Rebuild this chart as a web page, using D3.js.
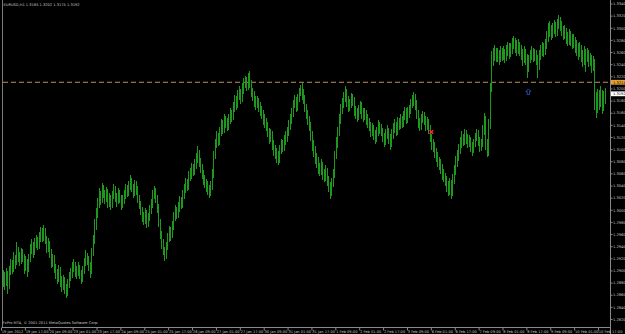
<!DOCTYPE html>
<meta charset="utf-8">
<head>
<style>
	html, body { margin: 0; padding: 0; background: #000; overflow: hidden; }
	svg { display: block; }
	.lbl { font-family: "DejaVu Sans", sans-serif; font-size: 3.6px; fill: #c8c8c8; }
</style>
<script src="https://cdn.jsdelivr.net/npm/d3@7"></script>
</head>
<body>
<script>

// DATA
var symbolTitle = "EURUSD,H1";
var copyright = "FxPro MT4, \u00a9 2001-2011 MetaQuotes Software Corp.";

var timeLabels = ["19 Jan 2012", "19 Jan 17:00", "20 Jan 09:00", "23 Jan 01:00", "23 Jan 17:00",
	"24 Jan 09:00", "25 Jan 01:00", "25 Jan 17:00", "26 Jan 09:00", "27 Jan 01:00", "27 Jan 17:00",
	"30 Jan 09:00", "31 Jan 01:00", "31 Jan 17:00", "1 Feb 09:00", "2 Feb 01:00", "2 Feb 17:00",
	"3 Feb 09:00", "6 Feb 01:00", "6 Feb 17:00", "7 Feb 09:00", "8 Feb 01:00", "8 Feb 17:00",
	"9 Feb 09:00", "10 Feb 01:00", "10 Feb 17:00"];
var barsPerLabel = 16;

var priceTicks = [1.3340, 1.3320, 1.3300, 1.3280, 1.3260, 1.3240, 1.3220, 1.3200, 1.3180, 1.3160,
	1.3140, 1.3120, 1.3100, 1.3080, 1.3060, 1.3040, 1.3020, 1.3000, 1.2980, 1.2960, 1.2940,
	1.2920, 1.2900, 1.2880, 1.2860, 1.2840, 1.2820];

var highs = [
	1.2902,1.2898,1.2905,1.2900,1.2908,1.2920,1.2918,1.2932,1.2926,1.2948,1.2940,
	1.2932,1.2938,1.2936,1.2928,1.2924,1.2920,1.2928,1.2944,1.2952,1.2948,
	1.2954,1.2960,1.2956,1.2964,1.2972,1.2970,1.2975,1.2970,1.2958,1.2954,
	1.2950,1.2936,1.2928,1.2926,1.2912,1.2904,1.2910,1.2906,1.2892,1.2894,
	1.2890,1.2878,1.2886,1.2898,1.2905,1.2914,1.2920,1.2915,1.2908,1.2914,
	1.2910,1.2902,1.2908,1.2922,1.2934,1.2930,1.2924,1.2915,1.2938,1.2960,
	1.2985,1.3004,1.3020,1.3036,1.3032,1.3045,1.3042,1.3034,1.3038,1.3035,
	1.3028,1.3026,1.3032,1.3044,1.3040,1.3028,1.3036,1.3034,1.3025,1.3026,
	1.3034,1.3044,1.3042,1.3048,1.3058,1.3054,1.3044,1.3050,1.3048,1.3040,
	1.3026,1.3016,1.3005,1.2998,1.3004,1.3000,1.2996,1.3008,1.3018,1.3034,
	1.3040,1.3036,1.3025,1.3010,1.2986,1.2966,1.2952,1.2940,1.2948,1.2962,
	1.2974,1.2972,1.2982,1.2998,1.3008,1.3006,1.3014,1.3024,1.3022,1.3034,
	1.3044,1.3054,1.3052,1.3064,1.3070,1.3078,1.3076,1.3084,1.3094,1.3106,
	1.3100,1.3086,1.3076,1.3066,1.3058,1.3052,1.3048,1.3042,1.3048,1.3068,
	1.3098,1.3118,1.3130,1.3128,1.3138,1.3150,1.3148,1.3158,1.3156,1.3152,
	1.3158,1.3168,1.3166,1.3178,1.3190,1.3188,1.3198,1.3205,1.3200,1.3210,
	1.3218,1.3222,1.3220,1.3226,1.3230,1.3215,1.3202,1.3196,1.3188,1.3188,
	1.3185,1.3178,1.3172,1.3166,1.3158,1.3152,1.3146,1.3136,1.3134,1.3130,
	1.3116,1.3108,1.3102,1.3098,1.3108,1.3118,1.3116,1.3124,1.3130,1.3138,
	1.3148,1.3158,1.3168,1.3182,1.3190,1.3186,1.3192,1.3202,1.3206,1.3210,
	1.3200,1.3190,1.3176,1.3166,1.3156,1.3146,1.3130,1.3116,1.3106,1.3094,
	1.3088,1.3078,1.3084,1.3080,1.3068,1.3074,1.3070,1.3056,1.3046,1.3054,
	1.3068,1.3098,1.3120,1.3138,1.3158,1.3175,1.3185,1.3195,1.3205,1.3200,
	1.3188,1.3184,1.3194,1.3192,1.3186,1.3172,1.3168,1.3174,1.3180,1.3178,
	1.3168,1.3168,1.3165,1.3158,1.3152,1.3146,1.3144,1.3140,1.3132,1.3138,
	1.3148,1.3146,1.3142,1.3136,1.3128,1.3134,1.3140,1.3136,1.3126,1.3134,
	1.3144,1.3150,1.3146,1.3154,1.3152,1.3158,1.3156,1.3164,1.3170,1.3168,
	1.3170,1.3174,1.3184,1.3190,1.3195,1.3192,1.3182,1.3166,1.3152,1.3158,
	1.3164,1.3162,1.3156,1.3154,1.3150,1.3140,1.3126,1.3118,1.3112,1.3102,
	1.3096,1.3088,1.3084,1.3076,1.3068,1.3062,1.3056,1.3048,1.3054,1.3050,
	1.3060,1.3074,1.3090,1.3100,1.3110,1.3120,1.3130,1.3126,1.3134,1.3132,
	1.3126,1.3124,1.3120,1.3112,1.3118,1.3128,1.3134,1.3132,1.3120,1.3118,
	1.3140,1.3160,1.3155,1.3118,1.3150,1.3210,1.3262,1.3268,1.3272,1.3268,
	1.3268,1.3264,1.3270,1.3268,1.3270,1.3266,1.3272,1.3278,1.3275,1.3276,
	1.3284,1.3288,1.3284,1.3280,1.3282,1.3278,1.3272,1.3266,1.3270,1.3266,
	1.3258,1.3256,1.3265,1.3270,1.3268,1.3266,1.3264,1.3256,1.3264,1.3272,
	1.3278,1.3275,1.3282,1.3296,1.3308,1.3312,1.3306,1.3308,1.3314,1.3310,
	1.3316,1.3322,1.3318,1.3312,1.3304,1.3305,1.3300,1.3294,1.3298,1.3295,
	1.3290,1.3290,1.3286,1.3280,1.3276,1.3278,1.3272,1.3264,1.3270,1.3266,
	1.3268,1.3264,1.3260,1.3256,1.3254,1.3250,1.3195,1.3200,1.3198,1.3205,1.3198,1.3196,1.3202];

var lows = [
	1.2874,1.2868,1.2875,1.2862,1.2870,1.2893,1.2895,1.2898,1.2904,1.2910,1.2915,
	1.2908,1.2912,1.2914,1.2895,1.2900,1.2890,1.2898,1.2914,1.2928,1.2922,
	1.2926,1.2938,1.2934,1.2936,1.2948,1.2948,1.2950,1.2944,1.2930,1.2932,
	1.2922,1.2905,1.2906,1.2896,1.2886,1.2878,1.2882,1.2874,1.2866,1.2868,
	1.2862,1.2855,1.2858,1.2872,1.2884,1.2888,1.2898,1.2890,1.2886,1.2892,
	1.2886,1.2878,1.2882,1.2895,1.2908,1.2910,1.2900,1.2888,1.2895,1.2924,
	1.2944,1.2968,1.2988,1.3004,1.3008,1.3012,1.3020,1.3010,1.3014,1.3004,
	1.3005,1.3000,1.3004,1.3018,1.3014,1.3006,1.3010,1.3012,1.3000,1.3004,
	1.3010,1.3018,1.3022,1.3024,1.3034,1.3030,1.3020,1.3024,1.3026,1.3012,
	1.3002,1.2992,1.2980,1.2976,1.2978,1.2970,1.2972,1.2982,1.2994,1.3004,
	1.3018,1.3012,1.2996,1.2972,1.2952,1.2936,1.2926,1.2916,1.2920,1.2934,
	1.2948,1.2950,1.2954,1.2968,1.2982,1.2986,1.2988,1.2998,1.3002,1.3004,
	1.3018,1.3028,1.3032,1.3034,1.3048,1.3052,1.3056,1.3058,1.3068,1.3078,
	1.3072,1.3062,1.3052,1.3042,1.3036,1.3030,1.3026,1.3020,1.3024,1.3034,
	1.3054,1.3084,1.3102,1.3106,1.3108,1.3122,1.3126,1.3128,1.3136,1.3130,
	1.3132,1.3142,1.3146,1.3148,1.3162,1.3166,1.3168,1.3182,1.3176,1.3178,
	1.3192,1.3202,1.3196,1.3198,1.3202,1.3186,1.3180,1.3170,1.3166,1.3168,
	1.3162,1.3156,1.3150,1.3140,1.3136,1.3130,1.3120,1.3110,1.3112,1.3100,
	1.3090,1.3084,1.3078,1.3074,1.3078,1.3092,1.3096,1.3098,1.3108,1.3112,
	1.3122,1.3132,1.3142,1.3154,1.3168,1.3162,1.3164,1.3178,1.3188,1.3182,
	1.3176,1.3162,1.3150,1.3140,1.3130,1.3115,1.3098,1.3088,1.3076,1.3070,
	1.3060,1.3056,1.3058,1.3050,1.3046,1.3048,1.3040,1.3030,1.3018,1.3024,
	1.3038,1.3054,1.3084,1.3102,1.3122,1.3142,1.3158,1.3168,1.3178,1.3170,
	1.3162,1.3164,1.3168,1.3172,1.3156,1.3150,1.3146,1.3148,1.3158,1.3150,
	1.3146,1.3148,1.3140,1.3136,1.3130,1.3120,1.3122,1.3116,1.3110,1.3112,
	1.3122,1.3126,1.3122,1.3112,1.3104,1.3108,1.3118,1.3110,1.3100,1.3104,
	1.3118,1.3128,1.3122,1.3124,1.3132,1.3134,1.3136,1.3138,1.3148,1.3142,
	1.3144,1.3152,1.3158,1.3168,1.3172,1.3166,1.3150,1.3136,1.3130,1.3132,
	1.3144,1.3140,1.3130,1.3132,1.3126,1.3112,1.3100,1.3096,1.3086,1.3080,
	1.3072,1.3066,1.3060,1.3050,1.3046,1.3040,1.3030,1.3024,1.3026,1.3018,
	1.3024,1.3044,1.3058,1.3072,1.3082,1.3092,1.3102,1.3106,1.3108,1.3110,
	1.3102,1.3104,1.3096,1.3090,1.3094,1.3104,1.3114,1.3106,1.3096,1.3098,
	1.3104,1.3124,1.3100,1.3088,1.3090,1.3134,1.3195,1.3238,1.3246,1.3244,
	1.3245,1.3240,1.3244,1.3246,1.3248,1.3242,1.3246,1.3254,1.3250,1.3252,
	1.3258,1.3266,1.3260,1.3255,1.3258,1.3254,1.3248,1.3238,1.3242,1.3240,
	1.3218,1.3228,1.3242,1.3248,1.3244,1.3246,1.3240,1.3218,1.3232,1.3248,
	1.3254,1.3252,1.3256,1.3266,1.3278,1.3286,1.3280,1.3284,1.3290,1.3286,
	1.3288,1.3298,1.3296,1.3288,1.3280,1.3282,1.3274,1.3270,1.3272,1.3270,
	1.3266,1.3268,1.3260,1.3255,1.3248,1.3252,1.3244,1.3236,1.3240,1.3228,
	1.3244,1.3236,1.3238,1.3226,1.3230,1.3165,1.3152,1.3160,1.3165,1.3170,1.3158,1.3164,1.3175];

var closes = [
	1.2890,1.2882,1.2895,1.2878,1.2900,1.2912,1.2905,1.2920,1.2915,1.2935,1.2925,
	1.2918,1.2930,1.2922,1.2910,1.2915,1.2905,1.2920,1.2935,1.2940,1.2932,
	1.2945,1.2950,1.2942,1.2955,1.2962,1.2958,1.2965,1.2952,1.2940,1.2945,
	1.2930,1.2915,1.2920,1.2905,1.2898,1.2890,1.2900,1.2885,1.2878,1.2885,
	1.2870,1.2865,1.2878,1.2890,1.2895,1.2905,1.2910,1.2900,1.2898,1.2905,
	1.2895,1.2890,1.2900,1.2915,1.2925,1.2918,1.2910,1.2900,1.2930,1.2950,
	1.2975,1.2995,1.3010,1.3025,1.3018,1.3035,1.3028,1.3020,1.3030,1.3012,
	1.3020,1.3010,1.3025,1.3035,1.3022,1.3015,1.3028,1.3020,1.3010,1.3018,
	1.3025,1.3035,1.3030,1.3040,1.3048,1.3038,1.3030,1.3042,1.3035,1.3020,
	1.3010,1.3000,1.2990,1.2985,1.2995,1.2980,1.2988,1.3000,1.3010,1.3025,
	1.3030,1.3020,1.3005,1.2980,1.2960,1.2945,1.2935,1.2925,1.2940,1.2955,
	1.2965,1.2960,1.2975,1.2990,1.3000,1.2995,1.3005,1.3015,1.3010,1.3025,
	1.3035,1.3045,1.3040,1.3055,1.3060,1.3070,1.3065,1.3075,1.3085,1.3095,
	1.3080,1.3070,1.3060,1.3050,1.3045,1.3040,1.3035,1.3030,1.3040,1.3060,
	1.3090,1.3110,1.3120,1.3115,1.3130,1.3140,1.3135,1.3150,1.3145,1.3140,
	1.3150,1.3160,1.3155,1.3170,1.3180,1.3175,1.3190,1.3195,1.3185,1.3200,
	1.3210,1.3215,1.3205,1.3220,1.3210,1.3195,1.3190,1.3180,1.3175,1.3180,
	1.3170,1.3165,1.3160,1.3150,1.3145,1.3140,1.3130,1.3120,1.3125,1.3110,
	1.3100,1.3095,1.3090,1.3085,1.3100,1.3110,1.3105,1.3115,1.3120,1.3130,
	1.3140,1.3150,1.3160,1.3175,1.3180,1.3170,1.3185,1.3195,1.3200,1.3190,
	1.3185,1.3170,1.3160,1.3150,1.3140,1.3125,1.3110,1.3100,1.3085,1.3080,
	1.3070,1.3065,1.3075,1.3060,1.3055,1.3065,1.3050,1.3040,1.3030,1.3045,
	1.3060,1.3090,1.3110,1.3130,1.3150,1.3165,1.3175,1.3185,1.3190,1.3180,
	1.3170,1.3175,1.3185,1.3180,1.3165,1.3160,1.3155,1.3165,1.3170,1.3160,
	1.3155,1.3160,1.3150,1.3145,1.3140,1.3130,1.3135,1.3125,1.3120,1.3130,
	1.3140,1.3135,1.3130,1.3120,1.3115,1.3125,1.3130,1.3120,1.3110,1.3125,
	1.3135,1.3140,1.3130,1.3145,1.3140,1.3150,1.3145,1.3155,1.3160,1.3150,
	1.3160,1.3165,1.3175,1.3180,1.3185,1.3175,1.3160,1.3145,1.3140,1.3150,
	1.3155,1.3150,1.3140,1.3145,1.3135,1.3120,1.3110,1.3105,1.3095,1.3090,
	1.3080,1.3075,1.3070,1.3060,1.3055,1.3050,1.3040,1.3035,1.3045,1.3030,
	1.3050,1.3065,1.3080,1.3090,1.3100,1.3110,1.3120,1.3115,1.3125,1.3120,
	1.3110,1.3115,1.3105,1.3100,1.3110,1.3120,1.3125,1.3115,1.3105,1.3110,
	1.3130,1.3150,1.3110,1.3095,1.3140,1.3200,1.3245,1.3255,1.3260,1.3255,
	1.3258,1.3250,1.3262,1.3255,1.3260,1.3252,1.3262,1.3268,1.3260,1.3265,
	1.3275,1.3278,1.3270,1.3265,1.3272,1.3265,1.3258,1.3250,1.3260,1.3252,
	1.3235,1.3248,1.3255,1.3260,1.3252,1.3258,1.3250,1.3240,1.3255,1.3262,
	1.3268,1.3262,1.3272,1.3285,1.3295,1.3300,1.3290,1.3298,1.3305,1.3295,
	1.3305,1.3312,1.3305,1.3298,1.3290,1.3295,1.3285,1.3280,1.3288,1.3280,
	1.3275,1.3280,1.3270,1.3265,1.3260,1.3268,1.3255,1.3250,1.3260,1.3252,
	1.3258,1.3245,1.3250,1.3238,1.3245,1.3180,1.3170,1.3185,1.3178,1.3190,1.3172,1.3185,1.3192];

var lineLevel = 1.3211;
var sellMark = { bar: 287, price: 1.3129 };
var buyMark = { bar: 352, price: 1.3200 };

// SETUP
var W = 625, H = 334,
	axisX = 610.5, axisY = 327.5;

var x = d3.scaleLinear().domain([0, closes.length - 1]).range([3, 604.5]);
var y = d3.scaleLinear().domain([1.2820, 1.3340]).range([319.5, 4]);
var fmt = d3.format(".4f");

var svg = d3.select("body").append("svg")
	.attr("width", W)
	.attr("height", H);

svg.append("rect").attr("width", W).attr("height", H).attr("fill", "#000");

// frame
svg.append("line").attr("x1", 2.5).attr("x2", 2.5).attr("y1", 0).attr("y2", axisY)
	.attr("stroke", "#7a7a7a").attr("stroke-width", 1);
svg.append("line").attr("x1", axisX).attr("x2", axisX).attr("y1", 0).attr("y2", H)
	.attr("stroke", "#8a8a8a").attr("stroke-width", 1);
svg.append("line").attr("x1", 2).attr("x2", axisX).attr("y1", axisY).attr("y2", axisY)
	.attr("stroke", "#8a8a8a").attr("stroke-width", 1);

// price scale
var pt = svg.append("g").selectAll("g")
	.data(priceTicks)
	.enter().append("g")
	.attr("transform", function(d) { return "translate(" + axisX + "," + y(d) + ")"; });
pt.append("line").attr("x1", 0).attr("x2", 2).attr("stroke", "#8a8a8a");
pt.append("text").attr("class", "lbl").attr("x", 2.5).attr("dy", "0.35em")
	.text(function(d) { return fmt(d); });

// time scale
var tt = svg.append("g").selectAll("g")
	.data(timeLabels)
	.enter().append("g")
	.attr("transform", function(d, i) { return "translate(" + x(i * barsPerLabel) + "," + axisY + ")"; });
tt.append("line").attr("x1", -1.5).attr("x2", -1.5).attr("y1", 0).attr("y2", 3).attr("stroke", "#8a8a8a");
tt.append("text").attr("class", "lbl").attr("x", -1.2).attr("y", 5.6)
	.text(function(d) { return d; });

// horizontal line object
svg.append("line")
	.attr("x1", 3).attr("x2", axisX)
	.attr("y1", y(lineLevel)).attr("y2", y(lineLevel))
	.attr("stroke", "#b8905a").attr("stroke-width", 1)
	.attr("stroke-dasharray", "5,3");

// BARS (high-low strokes, pixel snapped like the terminal draws them)
svg.append("g")
	.attr("shape-rendering", "crispEdges")
	.selectAll("line")
	.data(closes)
	.enter().append("line")
	.attr("x1", function(d, i) { return Math.round(x(i)) + 0.5; })
	.attr("x2", function(d, i) { return Math.round(x(i)) + 0.5; })
	.attr("y1", function(d, i) { return y(highs[i]); })
	.attr("y2", function(d, i) { return y(lows[i]); })
	.attr("stroke", "#1d9a1d")
	.attr("stroke-width", 1);

// trade marks
var sx = x(sellMark.bar), sy = y(sellMark.price);
svg.append("path")
	.attr("d", "M" + (sx - 1.8) + "," + (sy - 1.8) + "L" + (sx + 1.8) + "," + (sy + 1.8) +
		"M" + (sx + 1.8) + "," + (sy - 1.8) + "L" + (sx - 1.8) + "," + (sy + 1.8))
	.attr("stroke", "#ff2a2a").attr("stroke-width", 1.5);

var bx = x(buyMark.bar), by = y(buyMark.price);
svg.append("path")
	.attr("d", "M" + bx + "," + (by) + "L" + (bx + 2.5) + "," + (by + 2.5) + "L" + (bx + 1.2) + "," + (by + 2.5) +
		"L" + (bx + 1.2) + "," + (by + 5.5) + "L" + (bx - 1.2) + "," + (by + 5.5) + "L" + (bx - 1.2) + "," + (by + 2.5) +
		"L" + (bx - 2.5) + "," + (by + 2.5) + "Z")
	.attr("fill", "none").attr("stroke", "#3a5ad0").attr("stroke-width", 0.8);

// price labels on scale
function priceBox(p, bg, fg) {
	var g = svg.append("g").attr("transform", "translate(" + axisX + "," + y(p) + ")");
	g.append("rect").attr("x", 0.5).attr("y", -2.4).attr("width", 14).attr("height", 4.8).attr("fill", bg);
	g.append("text").attr("class", "lbl").attr("x", 2.5).attr("dy", "0.35em")
		.style("fill", fg).text(fmt(p));
}
priceBox(lineLevel, "#e8a030", "#000");
priceBox(closes[closes.length - 1], "#ffffff", "#000");

// header and copyright
var last = closes.length - 1;
svg.append("text").attr("class", "lbl").attr("x", 3.5).attr("y", 6)
	.text(symbolTitle + "  " + fmt(closes[last - 1]) + " " + fmt(highs[last]) + " " + fmt(lows[last]) + " " + fmt(closes[last]));

svg.append("text").attr("class", "lbl").attr("x", 2.5).attr("y", 323.5)
	.text(copyright);

</script>
</body>
